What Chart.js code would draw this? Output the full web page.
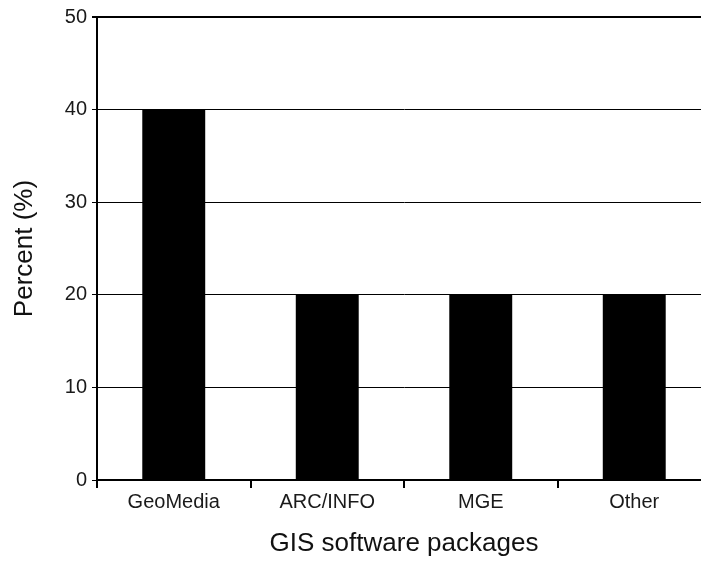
<!DOCTYPE html>
<html>
<head>
<meta charset="utf-8">
<script src="https://cdn.jsdelivr.net/npm/chart.js@4"></script>
<style>
  html, body { margin: 0; padding: 0; background: #fff; overflow: hidden; }
  #wrap { width: 701px; height: 562px; overflow: hidden; }
</style>
</head>
<body>
<div id="wrap"><canvas id="gis-chart" width="711" height="562"></canvas></div>
<script>
"use strict"

const packages = ['GeoMedia', 'ARC/INFO', 'MGE', 'Other'];
const percents = [40, 20, 20, 20];
const yTicks = [0, 10, 20, 30, 40, 50];

const font = 'Arial, "Liberation Sans", sans-serif';

const ctx = document.getElementById('gis-chart');

new Chart(ctx, {
    type: 'bar',
    data: {
        labels: packages,
        datasets: [{
            data: percents,
            backgroundColor: '#000',
            borderWidth: 0,
            barPercentage: 0.41,
            categoryPercentage: 1
        }]
    },
    options: {
        responsive: false,
        animation: false,
        layout: { padding: { top: 16, right: 0, bottom: 0, left: 0 } },
        plugins: { legend: { display: false }, tooltip: { enabled: false } },
        scales: {
            x: {
                grid: {
                    offset: true,
                    drawOnChartArea: false,
                    tickLength: 8,
                    color: '#000',
                    lineWidth: 2
                },
                border: { display: true, color: '#000', width: 2 },
                ticks: { color: '#1a1a1a', padding: 2, font: { family: font, size: 20 } },
                title: {
                    display: true,
                    text: 'GIS software packages',
                    color: '#111',
                    font: { family: font, size: 26 },
                    padding: { top: 0, bottom: 3 }
                },
                afterFit: scale => { scale.height = 82; }
            },
            y: {
                min: 0,
                max: 50,
                afterBuildTicks: scale => { scale.ticks = yTicks.map(v => ({ value: v })); },
                grid: {
                    color: '#000',
                    lineWidth: c => (c.tick && c.tick.value === 50 ? 2 : 1),
                    tickLength: 5
                },
                border: { display: true, color: '#000', width: 2 },
                ticks: { color: '#1a1a1a', padding: 5, font: { family: font, size: 20 } },
                title: {
                    display: true,
                    text: 'Percent (%)',
                    color: '#111',
                    font: { family: font, size: 26 },
                    padding: { top: 9, bottom: 0 }
                },
                afterFit: scale => { scale.width = 97; }
            }
        }
    }
});
</script>
</body>
</html>
